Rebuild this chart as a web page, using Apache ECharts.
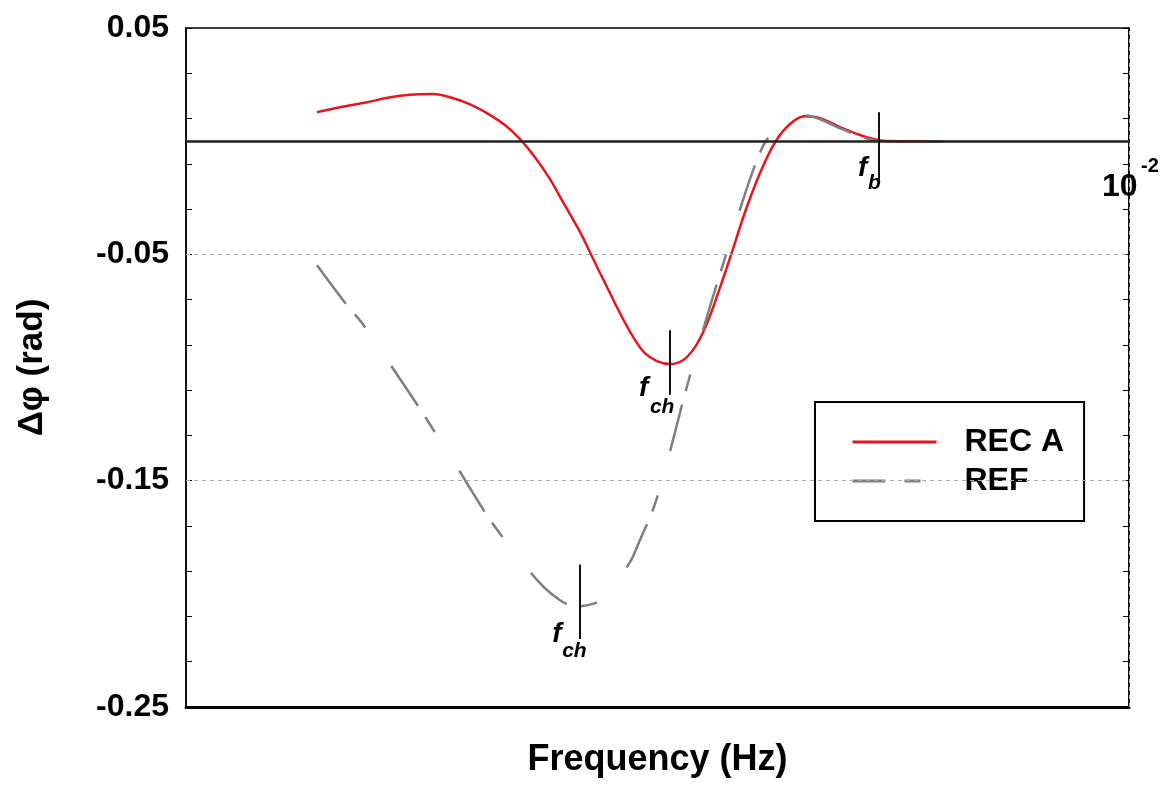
<!DOCTYPE html>
<html>
<head>
<meta charset="utf-8">
<script src="https://cdn.jsdelivr.net/npm/echarts@6/dist/echarts.min.js"></script>
<style>
  html, body { margin: 0; padding: 0; background: #fff; }
  #chart { width: 1164px; height: 786px; }
</style>
</head>
<body>
<div id="chart"></div>
<script>
// Phase difference vs frequency (log scale), recorded signal A against reference
const recAFreq = [4.95e-7, 6.55e-7, 9.11e-7, 1.21e-6, 1.54e-6, 2.04e-6, 2.51e-6, 3.21e-6, 3.94e-6, 4.91e-6,
  5.90e-6, 7.09e-6, 8.51e-6, 1.02e-5, 1.23e-5, 1.47e-5, 1.73e-5, 2.00e-5, 2.35e-5, 2.71e-5,
  3.14e-5, 3.68e-5, 4.32e-5, 5.00e-5, 5.65e-5, 6.38e-5, 7.66e-5, 9.20e-5, 1.11e-4, 1.33e-4,
  1.59e-4, 1.91e-4, 2.30e-4, 2.94e-4, 3.75e-4, 4.73e-4, 6.11e-4, 1.03e-3];
const recAPhase = [0.0128, 0.0150, 0.0172, 0.0194, 0.0205, 0.0208, 0.0194, 0.0163, 0.0124, 0.0071,
  0.0009, -0.0071, -0.0168, -0.0283, -0.0402, -0.0535, -0.0654, -0.0760, -0.0866, -0.0937,
  -0.0972, -0.0985, -0.0968, -0.0910, -0.0826, -0.0711, -0.0517, -0.0314, -0.0137, -0.0004,
  0.0075, 0.0110, 0.0102, 0.0062, 0.0027, 0.0004, 0.0, 0.0];

const refFreq = [4.95e-7, 7.14e-7, 8.58e-7, 1.27e-6, 1.76e-6, 2.17e-6, 2.91e-6, 3.94e-6, 4.91e-6, 7.53e-6,
  9.62e-6, 1.15e-5, 1.35e-5, 1.61e-5, 2.26e-5, 2.55e-5, 2.96e-5, 3.38e-5, 3.82e-5, 4.26e-5,
  4.82e-5, 5.51e-5, 6.38e-5, 7.48e-5, 8.87e-5, 1.04e-4, 1.17e-4, 1.38e-4, 1.59e-4, 1.91e-4,
  2.30e-4, 2.94e-4, 3.75e-4, 4.73e-4, 1.03e-3];
const refPhase = [-0.0548, -0.0725, -0.0804, -0.1012, -0.1189, -0.1308, -0.1476, -0.1653, -0.1763, -0.1953,
  -0.2028, -0.2055, -0.2050, -0.2024, -0.1860, -0.1763, -0.1639, -0.1489, -0.1321, -0.1167,
  -0.1003, -0.0835, -0.0658, -0.0473, -0.0274, -0.0106, -0.0009, 0.0066, 0.0097, 0.0115,
  0.0097, 0.0057, 0.0022, 0.0, 0.0];

// Characteristic frequencies: f_ch of REF, f_ch of REC A, f_b
const markerFreq = [1.23e-5, 3.68e-5, 4.73e-4];
const markerTop = [-0.187, -0.0835, 0.0128];
const markerBottom = [-0.220, -0.112, -0.0186];
const markerSub = ['ch', 'ch', 'b'];

// Gridlines and axis labels
const minorGridFreq = [2e-3, 3e-3, 4e-3, 5e-3, 6e-3, 7e-3, 8e-3, 9e-3];
const phaseGridValues = [-0.05, -0.15];
const phaseLabelValues = [-0.25, -0.15, -0.05, 0.05];
const freqLabelValue = 1e-2;

const FONT = '"Liberation Sans", Arial, sans-serif';
const RED = '#e8161c';
const GRAY = '#7f7f7f';
const GRID_GRAY = '#a8a8a8';

const pairs = (xs, ys) => xs.map((x, i) => [x, ys[i]]);

const chart = echarts.init(document.getElementById('chart'), null, { renderer: 'canvas' });

// text annotations: marker symbols "f" with subscripts, and the 10^-2 decade label
const annotations = [];
markerFreq.forEach((f, i) => {
  const p = [f, markerBottom[i]];
  const mainOff = [[-28, -19], [-31, -20], [-21, -29]][i];
  const subOff = [[-18, 2], [-20, 2], [-11, -11]][i];
  annotations.push({ value: p, text: 'f', size: 28, italic: true, off: mainOff });
  annotations.push({ value: p, text: markerSub[i], size: 21, italic: true, off: subOff });
});
annotations.push({ value: [freqLabelValue, 0], text: '10', size: 32, italic: false, off: [-27, 30] });
annotations.push({ value: [freqLabelValue, 0], text: '-2', size: 20, italic: false, off: [12, 15] });

const yAxisCommon = {
  type: 'value',
  min: -0.25,
  max: 0.05,
  interval: 0.02,
  axisLine: { show: true, lineStyle: { color: '#000', width: 1.5 } },
  axisTick: { show: true, inside: true, length: 6, lineStyle: { color: '#000', width: 1 } },
  splitLine: { show: false }
};

const isLabelTick = v => phaseLabelValues.some(l => Math.abs(l - v) < 1e-6);

const option = {
  backgroundColor: '#fff',
  animation: false,
  grid: {
    left: 186, right: 35, top: 28, bottom: 79,
    show: true, borderColor: '#000', borderWidth: 1.5, backgroundColor: 'transparent'
  },
  xAxis: {
    type: 'log',
    logBase: 10,
    min: 1e-7,
    max: 1e-2,
    position: 'bottom',
    axisLine: { show: true, onZero: false, lineStyle: { color: '#000', width: 3 } },
    axisTick: { show: false },
    axisLabel: { show: false },
    splitLine: { show: false },
    name: 'Frequency (Hz)',
    nameLocation: 'middle',
    nameGap: 35,
    nameTextStyle: { fontSize: 36, fontWeight: 'bold', fontFamily: FONT, color: '#000' }
  },
  yAxis: [
    Object.assign({}, yAxisCommon, {
      position: 'left',
      axisLabel: {
        show: true, margin: 17, fontSize: 32, fontWeight: 'bold', fontFamily: FONT, color: '#000',
        formatter: v => (isLabelTick(v) ? v.toFixed(2) : '')
      },
      name: 'Δφ (rad)',
      nameLocation: 'middle',
      nameGap: 136,
      nameTextStyle: { fontSize: 35, fontWeight: 'bold', fontFamily: FONT, color: '#000' }
    }),
    Object.assign({}, yAxisCommon, {
      position: 'right',
      axisLabel: { show: false }
    })
  ],
  legend: {
    data: [
      { name: 'REC A' },
      { name: 'REF', lineStyle: { type: [33, 19, 16, 30] } }
    ],
    orient: 'vertical',
    left: 815,
    top: 402,
    itemWidth: 84,
    itemHeight: 14,
    itemGap: 7,
    padding: [24, 20, 24, 36],
    borderColor: '#000',
    borderWidth: 2,
    backgroundColor: '#fff',
    itemStyle: { opacity: 0 },
    lineStyle: { width: 3 },
    textStyle: { fontSize: 32, fontWeight: 'bold', fontFamily: FONT, color: '#000', lineHeight: 30, padding: [0, 0, 0, 23] }
  },
  series: [
    {
      // gridlines and the zero reference line
      name: 'grid',
      type: 'line',
      data: [],
      z: 1,
      silent: true,
      markLine: {
        silent: true,
        symbol: 'none',
        label: { show: false },
        lineStyle: { color: GRID_GRAY, type: [4, 4], width: 1 },
        data: minorGridFreq.concat(markerFreq).map(f => ({ xAxis: f }))
          .concat(phaseGridValues.map(v => ({ yAxis: v })))
          .concat([{ yAxis: 0, lineStyle: { color: '#222', type: 'solid', width: 2.5 } }])
      }
    },
    {
      name: 'REC A',
      type: 'line',
      data: pairs(recAFreq, recAPhase),
      symbol: 'none',
      smooth: 0.3,
      z: 3,
      lineStyle: { color: RED, width: 2.5 },
      itemStyle: { color: RED }
    },
    {
      name: 'REF',
      type: 'line',
      data: pairs(refFreq, refPhase),
      symbol: 'none',
      smooth: 0.3,
      z: 4,
      lineStyle: { color: GRAY, width: 2.5, type: [48, 14, 17, 46] },
      itemStyle: { color: GRAY }
    },
    {
      // vertical ticks at the characteristic frequencies
      name: 'markers',
      type: 'line',
      data: [],
      z: 5,
      silent: true,
      markLine: {
        silent: true,
        symbol: 'none',
        label: { show: false },
        lineStyle: { color: '#111', type: 'solid', width: 2 },
        data: markerFreq.map((f, i) => [{ coord: [f, markerTop[i]] }, { coord: [f, markerBottom[i]] }])
      }
    },
    {
      name: 'labels',
      type: 'scatter',
      symbolSize: 0,
      z: 6,
      silent: true,
      clip: false,
      itemStyle: { opacity: 1 },
      data: annotations.map(a => ({
        value: a.value,
        label: {
          show: true,
          position: a.off,
          formatter: a.text,
          fontSize: a.size,
          lineHeight: a.size,
          fontStyle: a.italic ? 'italic' : 'normal',
          fontWeight: 'bold',
          fontFamily: FONT,
          color: '#000',
          opacity: 1
        }
      }))
    }
  ]
};

chart.setOption(option);
</script>
</body>
</html>
